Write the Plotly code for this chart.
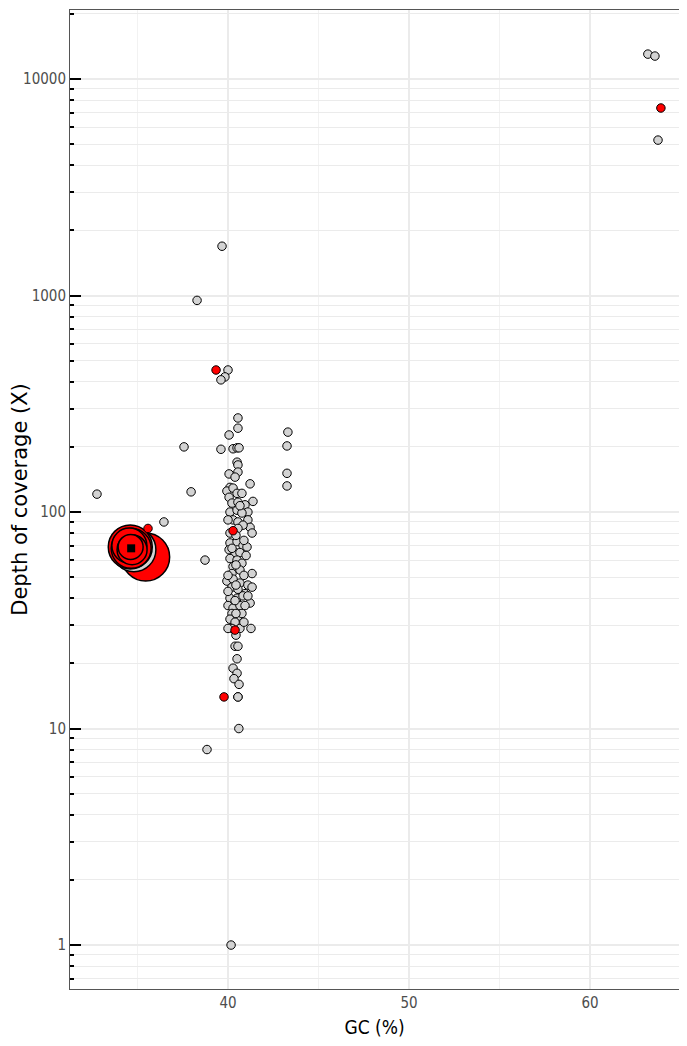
import plotly.graph_objects as go

# Grey contigs: GC (%) and depth of coverage (X)
grey_gc = [32.76, 36.46, 37.57, 37.96, 38.29, 39.67, 38.73, 38.84, 40.17, 40.6, 40.55,
           40.0, 39.83, 39.61, 39.61, 43.31, 43.26, 43.26, 43.26,
           63.2, 63.59, 63.76,
           40.55, 40.55, 40.06, 40.28, 40.5, 40.61, 40.5, 40.55, 40.55, 40.06, 40.39, 41.22,
           40.11, 39.94, 40.28, 40.5, 40.77, 40.06, 41.38, 40.22, 40.55, 40.94, 41.1, 40.11,
           40.5, 40.77, 41.1, 40.28, 40.55, 41.22, 40.83, 41.33, 40.55, 40.11,
           40.11, 40.5, 40.83, 41.05, 40.06, 40.39, 40.66, 40.11, 40.5, 40.77, 40.28, 40.66,
           41.33, 40.22, 39.94, 40.28, 40.66, 41.1, 41.33, 40.22, 40.55, 40.94, 40.11, 40.5,
           40.83, 41.22, 40.0, 40.28, 40.66, 40.94, 40.22, 40.55, 40.11, 40.39, 40.66, 40.22,
           41.27, 40.44, 40.39, 40.55, 40.5, 40.28, 40.5, 40.33, 40.61, 40.55,
           40.66, 40.0, 40.44, 40.88, 40.22, 41.0, 40.44, 40.0, 40.88, 40.44, 41.1, 40.0,
           40.39, 40.77, 40.44, 40.0, 40.88]
grey_depth = [121, 90, 200, 124, 950, 1690, 60, 8, 1, 10, 14,
              453, 421, 408, 195, 234, 202, 151, 132,
              13040, 12770, 5225,
              272, 244, 227, 196, 198, 198, 170, 165, 153, 150, 145, 135,
              130, 125, 129, 122, 122, 117, 112, 110, 111, 108, 100, 100,
              102, 99, 92, 92, 90, 85, 87, 80, 84, 80,
              72, 73, 70, 69, 67, 65, 65, 61, 60, 58, 56, 54,
              52, 52, 48, 49, 47, 46, 45, 45, 44, 42, 40, 40,
              41, 38, 37, 36, 37, 37, 34, 33, 32, 31, 29, 29,
              29, 27, 24, 24, 21, 19, 18, 17, 16, 14,
              107, 92, 78, 74, 68, 63, 57, 51, 51, 46, 41, 43,
              39, 34, 34, 29, 31]

# Small red contigs
red_gc = [39.34, 40.28, 40.39, 39.78, 63.92, 35.58]
red_depth = [453, 82, 28.5, 14, 7350, 84]

# Large (highlighted) contigs: GC, depth, relative size, colour
big_gc = [35.45, 34.8, 34.6, 34.65, 34.55, 34.7, 34.62]
big_depth = [62, 67, 69, 68, 70, 67, 69]
big_size = [48, 44, 44, 40, 35, 30, 25]
big_color = ["red", "lightgrey", "red", "red", "red", "red", "red"]

center_gc = [34.65]
center_depth = [68]

label_font = "Liberation Sans Narrow, DejaVu Sans Condensed, Arial Narrow, sans-serif"

fig = go.Figure()
fig.add_trace(go.Scatter(
    x=big_gc, y=big_depth, mode="markers",
    marker=dict(size=big_size, color=big_color, opacity=1,
                line=dict(color="black", width=1.5)),
    showlegend=False))
fig.add_trace(go.Scatter(
    x=grey_gc, y=grey_depth, mode="markers",
    marker=dict(size=8.5, color="#d3d3d3", opacity=1, line=dict(color="black", width=1)),
    showlegend=False))
fig.add_trace(go.Scatter(
    x=red_gc, y=red_depth, mode="markers",
    marker=dict(size=8.5, color="red", opacity=1, line=dict(color="black", width=1)),
    showlegend=False))
fig.add_trace(go.Scatter(
    x=center_gc, y=center_depth, mode="markers",
    marker=dict(size=8, color="black", symbol="square"),
    showlegend=False))

fig.update_layout(
    width=671, height=1030,
    margin=dict(l=62, r=0, t=2, b=49, autoexpand=False),
    paper_bgcolor="white", plot_bgcolor="white",
    showlegend=False,
)
fig.update_xaxes(
    range=[31.27, 64.92], dtick=10, tick0=0, automargin=False,
    showgrid=True, gridcolor="#ebebeb", gridwidth=1.5,
    minor=dict(dtick=5, tick0=0, showgrid=True, gridcolor="#f2f2f2", gridwidth=1),
    showline=True, linecolor="#555555", linewidth=1, mirror=True,
    ticks="", zeroline=False,
    tickfont=dict(family=label_font, size=15, color="#4d4d4d"),
    title=dict(text="GC (%)", font=dict(family=label_font, size=19, color="black"), standoff=12),
)
fig.update_yaxes(
    type="log", range=[-0.203, 4.319], automargin=False,
    tickvals=[1, 10, 100, 1000, 10000], ticktext=["1", "10", "100", "1000", "10000"],
    showgrid=True, gridcolor="#ebebeb", gridwidth=1.5,
    minor=dict(dtick="D1", showgrid=True, gridcolor="#ebebeb", gridwidth=1,
               ticks="inside", ticklen=4, tickwidth=2, tickcolor="black"),
    ticks="inside", ticklen=11, tickwidth=2, tickcolor="black",
    showline=True, linecolor="#555555", linewidth=1, mirror=False,
    zeroline=False,
    tickfont=dict(family=label_font, size=15, color="#4d4d4d"),
    title=dict(text="Depth of coverage (X)", font=dict(family="DejaVu Sans", size=21, color="black"), standoff=12),
)

fig.write_html("out.html")
